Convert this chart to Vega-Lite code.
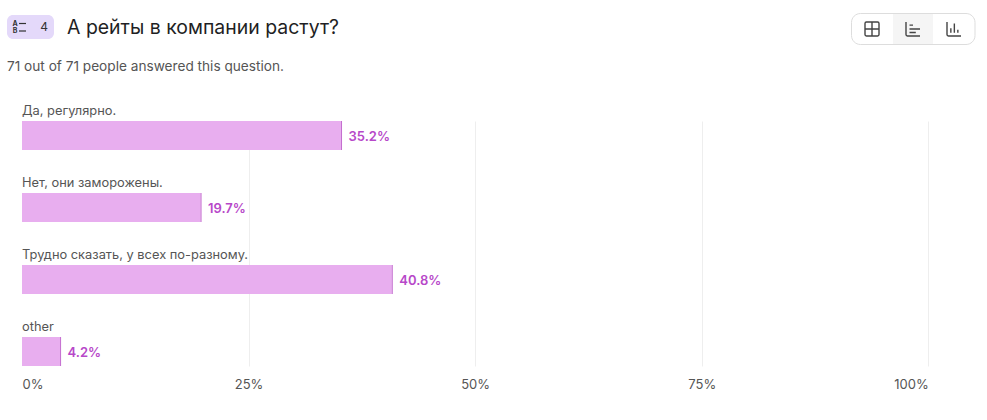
{
  "$schema": "https://vega.github.io/schema/vega-lite/v6.json",
  "width": 906.3,
  "height": 245,
  "padding": {"left": 22, "top": 121, "right": 58.7, "bottom": 54},
  "autosize": "none",
  "background": "white",
  "config": {
    "font": "Inter",
    "view": {"stroke": null},
    "text": {"font": "Inter"}
  },
  "resolve": {"scale": {"x": "independent", "y": "independent"}},
  "layer": [
    {
      "data": {
        "values": [
          {"answer": "Да, регулярно.", "pct": 35.2, "label": "35.2%"},
          {"answer": "Нет, они заморожены.", "pct": 19.7, "label": "19.7%"},
          {"answer": "Трудно сказать, у всех по-разному.", "pct": 40.8, "label": "40.8%"},
          {"answer": "other", "pct": 4.2, "label": "4.2%"}
        ]
      },
      "layer": [
        {
          "mark": {"type": "bar", "color": "#e8aeef"},
          "encoding": {
            "x": {
              "field": "pct",
              "type": "quantitative",
              "scale": {"domain": [0, 100], "nice": false},
              "axis": {
                "title": null,
                "values": [0, 25, 50, 75, 100],
                "format": "d",
                "labelExpr": "datum.value + '%'",
                "labelAlign": {"expr": "datum.value == 0 ? 'left' : datum.value == 100 ? 'right' : 'center'"},
                "labelFontSize": 13,
                "labelColor": "#555555",
                "labelPadding": 12,
                "domain": false,
                "ticks": false,
                "grid": true,
                "gridColor": {"expr": "datum.value == 0 ? 'white' : '#eeeeee'"},
                "gridWidth": 1
              }
            },
            "y": {
              "field": "answer",
              "type": "nominal",
              "sort": null,
              "scale": {"paddingInner": 0.597, "paddingOuter": 0},
              "axis": null
            }
          }
        },
        {
          "mark": {"type": "tick", "color": "#a92fbb", "size": 29, "thickness": 1, "xOffset": 0.5},
          "encoding": {
            "x": {"field": "pct", "type": "quantitative"},
            "y": {"field": "answer", "type": "nominal", "sort": null}
          }
        },
        {
          "mark": {"type": "text", "align": "left", "baseline": "middle", "dx": 7.5, "dy": 1.5, "fontSize": 13, "fontWeight": 600, "color": "#b748c9"},
          "encoding": {
            "x": {"field": "pct", "type": "quantitative"},
            "y": {"field": "answer", "type": "nominal", "sort": null},
            "text": {"field": "label"}
          }
        },
        {
          "mark": {"type": "text", "align": "left", "baseline": "bottom", "dy": -3, "fontSize": 12.85, "color": "#555555"},
          "encoding": {
            "x": {"datum": 0, "type": "quantitative"},
            "y": {"field": "answer", "type": "nominal", "sort": null, "bandPosition": 0},
            "text": {"field": "answer"}
          }
        }
      ]
    },
    {
      "data": {"values": [{"title": "А рейты в компании растут?", "note": "71 out of 71 people answered this question.", "number": "4"}]},
      "layer": [
        {
          "mark": {"type": "rect", "color": "#e4d9fa", "cornerRadius": 6},
          "encoding": {
            "x": {"datum": 7, "type": "quantitative", "scale": {"domain": [22, 928.3], "nice": false}, "axis": null},
            "x2": {"datum": 54},
            "y": {"datum": 15, "type": "quantitative", "scale": {"domain": [366, 121], "nice": false, "zero": false}, "axis": null},
            "y2": {"datum": 39}
          }
        },
        {
          "mark": {"type": "text", "align": "center", "baseline": "middle", "fontSize": 12, "color": "#333333"},
          "encoding": {
            "x": {"datum": 44, "type": "quantitative"},
            "y": {"datum": 27, "type": "quantitative"},
            "text": {"field": "number"}
          }
        },
        {
          "mark": {"type": "text", "align": "center", "baseline": "middle", "fontSize": 7, "fontWeight": 700, "color": "#333333"},
          "encoding": {
            "x": {"datum": 15, "type": "quantitative"},
            "y": {"datum": 23.5, "type": "quantitative"},
            "text": {"datum": "A"}
          }
        },
        {
          "mark": {"type": "text", "align": "center", "baseline": "middle", "fontSize": 7, "fontWeight": 700, "color": "#333333"},
          "encoding": {
            "x": {"datum": 15, "type": "quantitative"},
            "y": {"datum": 31, "type": "quantitative"},
            "text": {"datum": "B"}
          }
        },
        {
          "mark": {"type": "rule", "color": "#333333", "strokeWidth": 1.2},
          "encoding": {
            "x": {"datum": 19, "type": "quantitative"},
            "x2": {"datum": 26},
            "y": {"datum": 23.5, "type": "quantitative"}
          }
        },
        {
          "mark": {"type": "rule", "color": "#333333", "strokeWidth": 1.2},
          "encoding": {
            "x": {"datum": 19, "type": "quantitative"},
            "x2": {"datum": 26},
            "y": {"datum": 31, "type": "quantitative"}
          }
        },
        {
          "mark": {"type": "text", "align": "left", "baseline": "alphabetic", "fontSize": 19.45, "color": "#1f1f24"},
          "encoding": {
            "x": {"datum": 67, "type": "quantitative"},
            "y": {"datum": 34, "type": "quantitative"},
            "text": {"field": "title"}
          }
        },
        {
          "mark": {"type": "text", "align": "left", "baseline": "alphabetic", "fontSize": 13.65, "color": "#555555"},
          "encoding": {
            "x": {"datum": 7, "type": "quantitative"},
            "y": {"datum": 71, "type": "quantitative"},
            "text": {"field": "note"}
          }
        },
        {
          "mark": {"type": "rect", "color": "#f5f5f5"},
          "encoding": {
            "x": {"datum": 893, "type": "quantitative"},
            "x2": {"datum": 933},
            "y": {"datum": 14, "type": "quantitative"},
            "y2": {"datum": 44}
          }
        },
        {
          "mark": {"type": "rect", "fill": null, "stroke": "#dddddd", "strokeWidth": 1, "cornerRadius": 9},
          "encoding": {
            "x": {"datum": 851.5, "type": "quantitative"},
            "x2": {"datum": 975},
            "y": {"datum": 13.5, "type": "quantitative"},
            "y2": {"datum": 44.5}
          }
        },
        {
          "mark": {
            "type": "point",
            "filled": false,
            "size": 196,
            "color": "#444444",
            "strokeWidth": 1.4,
            "opacity": 1,
            "shape": "M-0.8 -1H0.8A0.2 0.2 0 0 1 1 -0.8V0.8A0.2 0.2 0 0 1 0.8 1H-0.8A0.2 0.2 0 0 1 -1 0.8V-0.8A0.2 0.2 0 0 1 -0.8 -1ZM0 -1V1M-1 0H1"
          },
          "encoding": {
            "x": {"datum": 872, "type": "quantitative"},
            "y": {"datum": 29, "type": "quantitative"}
          }
        },
        {
          "mark": {
            "type": "point",
            "filled": false,
            "size": 196,
            "color": "#444444",
            "strokeWidth": 1.4,
            "opacity": 1,
            "shape": "M-1 -1V0.8A0.2 0.2 0 0 0 -0.8 1H1M-0.5 -0.55H0M-0.5 0H1M-0.5 0.5H0.4"
          },
          "encoding": {
            "x": {"datum": 913, "type": "quantitative"},
            "y": {"datum": 29, "type": "quantitative"}
          }
        },
        {
          "mark": {
            "type": "point",
            "filled": false,
            "size": 196,
            "color": "#444444",
            "strokeWidth": 1.4,
            "opacity": 1,
            "shape": "M-1 -1V0.8A0.2 0.2 0 0 0 -0.8 1H1M-0.45 0.55V-0.1M0.05 0.55V-0.8M0.55 0.55V0.1"
          },
          "encoding": {
            "x": {"datum": 954, "type": "quantitative"},
            "y": {"datum": 29, "type": "quantitative"}
          }
        }
      ]
    }
  ]
}
